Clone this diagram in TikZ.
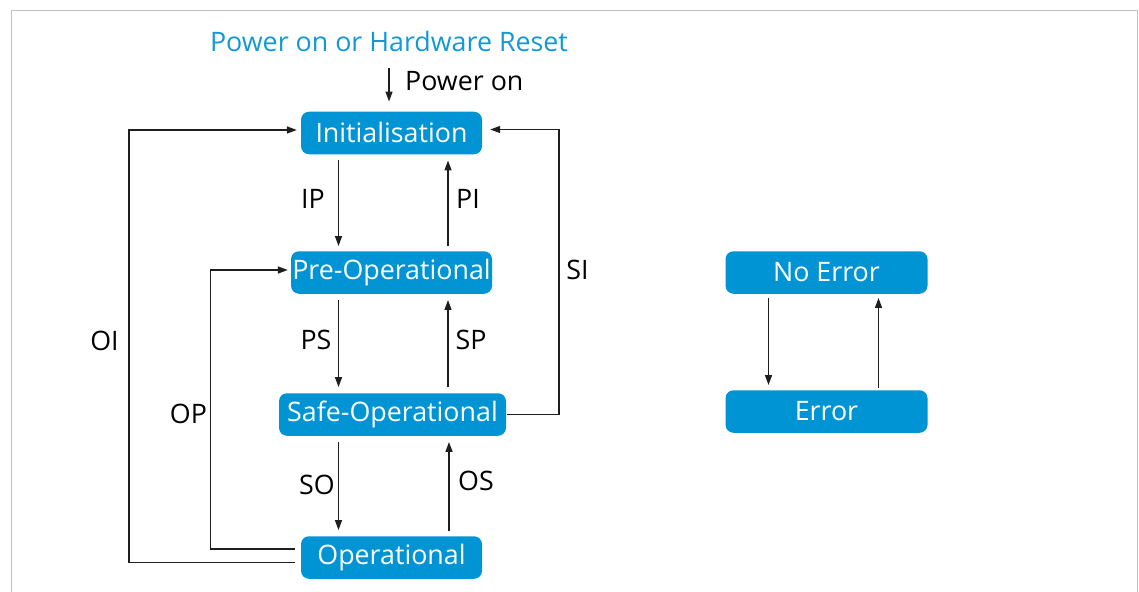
\documentclass[tikz,border=0pt]{standalone}
\usepackage{fontspec}
\setmainfont{Open Sans}
\usetikzlibrary{arrows.meta}
\definecolor{boxblue}{RGB}{0,148,212}
\definecolor{titleblue}{RGB}{20,152,212}
\definecolor{framegray}{RGB}{192,192,192}
\definecolor{linegray}{RGB}{30,30,30}
\tikzset{
  state/.style={fill=boxblue, rounded corners=8pt, text=white, font=\fontsize{26.8}{30}\selectfont,
    minimum height=42.5pt, inner sep=0pt, anchor=center},
  lbl/.style={font=\fontsize{26.8}{30}\selectfont, text=black, inner sep=0pt},
  arr/.style={draw=linegray, line width=1.4pt, -{Stealth[length=10pt,width=7pt,inset=0pt]}},
  ln/.style={draw=linegray, line width=1.4pt},
}
\begin{document}
\begin{tikzpicture}[x=1pt,y=-1pt]
\useasboundingbox (0,0) rectangle (1139,591);
% frame
\draw[framegray, line width=1.2pt] (11.5,600) -- (11.5,10.5) -- (1137.5,10.5) -- (1137.5,600);
% title
\node[font=\fontsize{26.8}{30}\selectfont, text=titleblue, inner sep=0pt] (title) at (389,41) {Power on or Hardware Reset};
% states
\node[state, minimum width=181pt] (init) at (391.5,133) {\raisebox{1.5pt}{Initialisation}};
\node[state, minimum width=201pt] (pre) at (391.5,272.5) {\raisebox{1.5pt}{Pre-Operational}};
\node[state, minimum width=227pt] (safe) at (392.5,414.5) {\raisebox{1.5pt}{Safe-Operational}};
\node[state, minimum width=181pt] (op) at (391.5,557.5) {\raisebox{1.5pt}{Operational}};
\node[state, minimum width=202pt] (noerr) at (826.5,272.5) {\raisebox{1.5pt}{No Error}};
\node[state, minimum width=202pt] (err) at (826.5,411.5) {\raisebox{1.5pt}{Error}};
% power on
\coordinate (pstart) at (389,68);
\draw[arr] (pstart) -- (pstart |- init.north) [shorten >=10pt];
\node[lbl, anchor=west] (pwr) at (405,81) {Power on};
% vertical transitions
\draw[arr, shorten <=6pt, shorten >=5pt] ([xshift=-53pt]init.south) -- ([xshift=-53pt]pre.north);
\draw[arr, shorten <=5pt, shorten >=6pt] ([xshift=56.5pt]pre.north) -- ([xshift=56.5pt]init.south);
\draw[arr, shorten <=6pt, shorten >=6pt] ([xshift=-53pt]pre.south) -- ([xshift=-53pt]pre.south |- safe.north);
\draw[arr, shorten <=6pt, shorten >=6pt] ([xshift=56.5pt]pre.south |- safe.north) -- ([xshift=56.5pt]pre.south);
\draw[arr, shorten <=6pt, shorten >=6pt] ([xshift=-53pt]op.north |- safe.south) -- ([xshift=-53pt]op.north);
\draw[arr, shorten <=5pt, shorten >=6pt] ([xshift=57.5pt]op.north) -- ([xshift=57.5pt]op.north |- safe.south);
% labels
\node[lbl] (lIP) at (313,199) {IP};
\node[lbl] (lPI) at (468,199) {PI};
\node[lbl] (lPS) at (316,340) {PS};
\node[lbl] (lSP) at (471,340) {SP};
\node[lbl] (lSO) at (317,485) {SO};
\node[lbl] (lOS) at (476,481) {OS};
\node[lbl] (lOI) at (104.5,341) {OI};
\node[lbl] (lOP) at (188.5,413.5) {OP};
\node[lbl] (lSI) at (577.5,270) {SI};
% long loops
\coordinate (oiA) at (129,562.5);
\coordinate (oiB) at (129,130);
\draw[arr] ([yshift=-5pt,xshift=-6pt]op.west) -- (oiA) -- (oiB) -- ([yshift=3pt,xshift=-4pt]init.west);
\coordinate (opA) at (210.5,549);
\coordinate (opB) at (210.5,270);
\draw[arr] ([yshift=8.5pt,xshift=-6pt]op.west) -- (opA) -- (opB) -- ([xshift=-3pt]opB -| pre.west);
\coordinate (siA) at (559,414.5);
\coordinate (siB) at (559,129.5);
\draw[arr] ([xshift=1pt]safe.east) -- (siA) -- (siB) -- ([xshift=8pt]siB -| init.east);
% error
\draw[arr, shorten <=4pt, shorten >=5pt] ([xshift=-58pt]noerr.south) -- ([xshift=-58pt]err.north);
\draw[arr, shorten <=2pt, shorten >=4pt] ([xshift=52pt]err.north) -- ([xshift=52pt]noerr.south);
\end{tikzpicture}
\end{document}
